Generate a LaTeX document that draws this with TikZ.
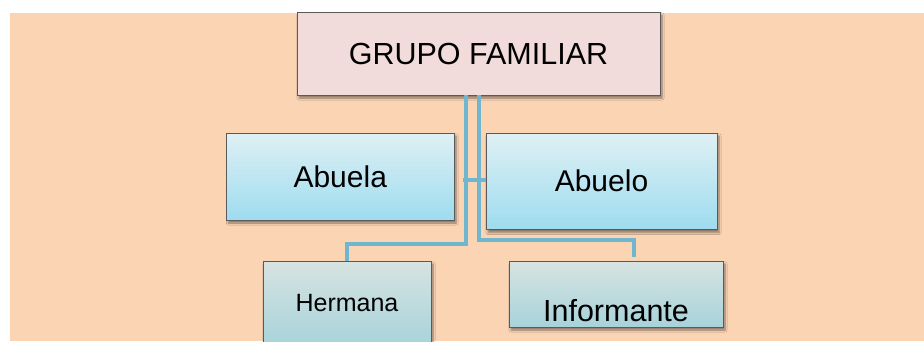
\documentclass[tikz,border=0pt]{standalone}
\usepackage{fontspec}
\setmainfont{Liberation Sans}
\usetikzlibrary{shadows.blur}
\definecolor{fondo}{HTML}{FBD4B4}
\definecolor{grupo}{HTML}{F2DCDB}
\definecolor{celeste_top}{HTML}{DFF0F4}
\definecolor{celeste_bottom}{HTML}{9EDCEF}
\definecolor{verdoso_top}{HTML}{D7E3E1}
\definecolor{verdoso_bottom}{HTML}{A7D3DB}
\definecolor{linea}{HTML}{70B6CE}
\definecolor{borde}{HTML}{5A5A5A}
\begin{document}
\begin{tikzpicture}[x=1pt, y=-1pt,
    grupobox/.style={shape=rectangle, draw=borde, line width=0.8, fill=grupo, inner sep=0, outer sep=0, blur shadow={shadow xshift=2pt, shadow yshift=-3pt, shadow opacity=45, shadow blur steps=6}},
    abuelobox/.style={shape=rectangle, draw=borde, line width=0.8, top color=celeste_top, bottom color=celeste_bottom, inner sep=0, outer sep=0, blur shadow={shadow xshift=2pt, shadow yshift=-3pt, shadow opacity=45, shadow blur steps=6}},
    nietobox/.style={shape=rectangle, draw=borde, line width=0.8, top color=verdoso_top, bottom color=verdoso_bottom, inner sep=0, outer sep=0, blur shadow={shadow xshift=2pt, shadow yshift=-3pt, shadow opacity=45, shadow blur steps=6}},
    conector/.style={draw=linea, line width=4.5, line join=miter}
]
% Page and background
\useasboundingbox (0,0) rectangle (924,341);
\fill[white] (0,0) rectangle (924,341);
\fill[fondo] (10,13) rectangle (924,341);

% Coordinates
\coordinate (codo_izq) at (347,244);
\coordinate (codo_der) at (634,240);
\coordinate (fin_der) at (634,257);
\coordinate (rama) at (463,180);

% Boxes
\node[grupobox, minimum width=363, minimum height=83, font=\fontsize{30.5}{36}\selectfont] (grupo) at (478.5,53.5) {GRUPO FAMILIAR};

\node[abuelobox, minimum width=227.5, minimum height=87, font=\fontsize{30}{36}\selectfont] (abuela) at (340.25,176.5) {Abuela};
\node[abuelobox, minimum width=231, minimum height=96.5, font=\fontsize{30}{36}\selectfont] (abuelo) at (601.5,181.25) {Abuelo};

\node[nietobox, minimum width=168, minimum height=85, font=\fontsize{25}{30}\selectfont] (hermana) at (347,303.5) {Hermana};
\node[nietobox, minimum width=214, text height=60.7, text depth=5.3, font=\fontsize{30.5}{36}\selectfont] (informante) at (616,294) {Informante};

% Lines
\draw[conector] ([xshift=-12.5]grupo.south) |- (codo_izq) -- (hermana.north);
\draw[conector] ([xshift=0.5]grupo.south) |- (codo_der) -- (fin_der);
\draw[conector] (rama) -- (rama -| abuelo.west);

\end{tikzpicture}
\end{document}
